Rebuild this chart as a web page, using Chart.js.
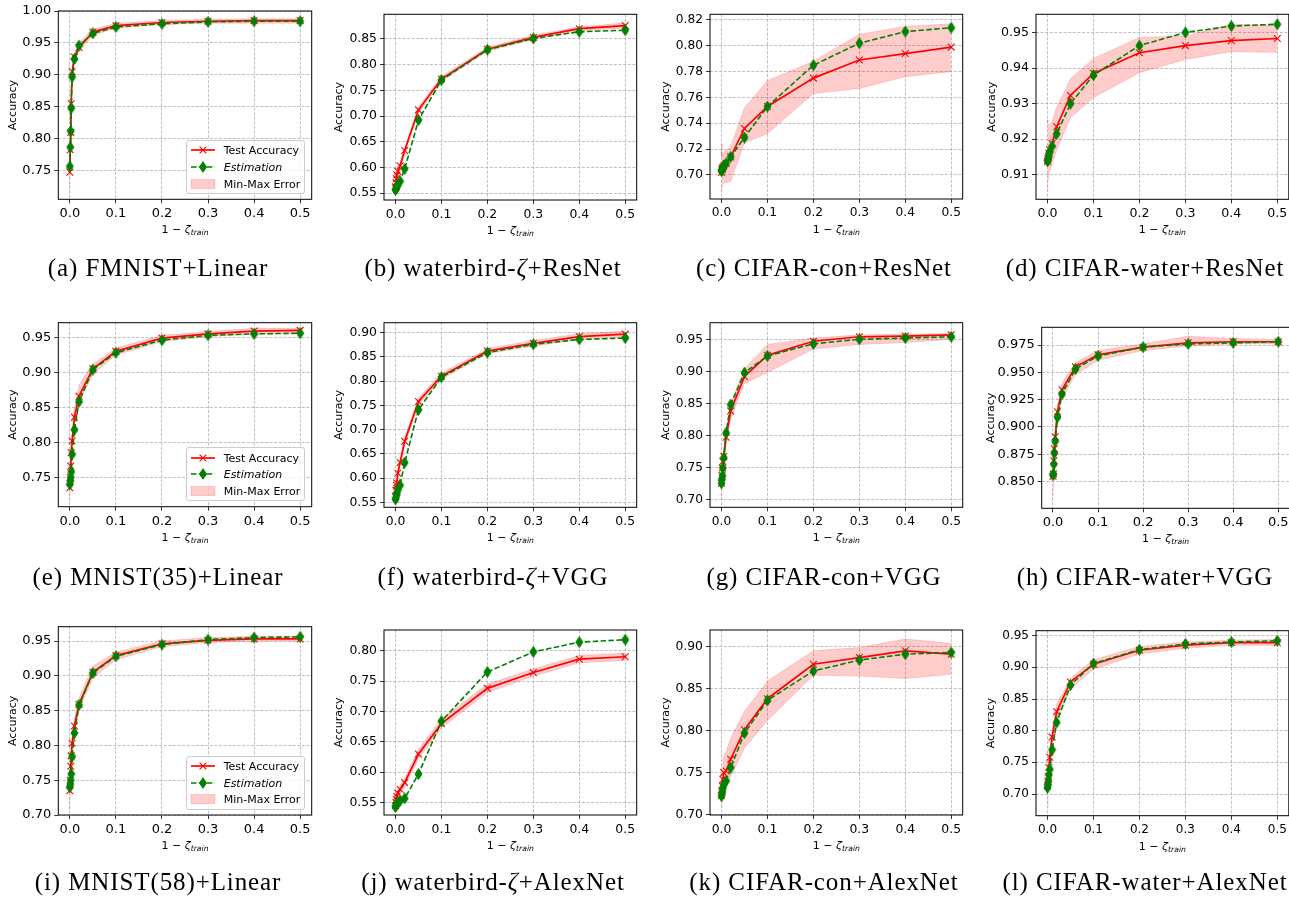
<!DOCTYPE html>
<html>
<head>
<meta charset="utf-8">
<script src="https://cdn.jsdelivr.net/npm/chart.js@4.4.1/dist/chart.umd.min.js"></script>
<style>
  body { margin: 0; background: #fff; width: 1289px; height: 898px; overflow: hidden; position: relative; font-family: "DejaVu Sans", sans-serif; }
  canvas { position: absolute; }
  .xlab { position: absolute; font-size: 11px; transform: translate(-50%, -50%); white-space: nowrap; }
  .xlab sub { font-size: 7.7px; font-style: italic; vertical-align: -2px; }
  .cap { position: absolute; font-family: "Liberation Serif", serif; font-size: 25px; letter-spacing: 0.9px; transform: translate(-50%, -50%); white-space: nowrap; }
  .legend { position: absolute; box-sizing: border-box; border: 1px solid #cccccc; border-radius: 3px; background: rgba(255,255,255,0.8); font-size: 11px; }
  .legend svg { position: absolute; left: 3px; }
  .legend span { position: absolute; left: 37px; transform: translateY(-50%); white-space: nowrap; }
</style>
</head>
<body>
<script>
// x values (1 - zeta_train) shared by every panel
const zeta = [0, 0.001, 0.002, 0.003, 0.005, 0.01, 0.02, 0.05, 0.1, 0.2, 0.3, 0.4, 0.5];
const xTicks = [0, 0.1, 0.2, 0.3, 0.4, 0.5];

const captions = [
  '(a) FMNIST+Linear', '(b) waterbird-<i>ζ</i>+ResNet', '(c) CIFAR-con+ResNet', '(d) CIFAR-water+ResNet',
  '(e) MNIST(35)+Linear', '(f) waterbird-<i>ζ</i>+VGG', '(g) CIFAR-con+VGG', '(h) CIFAR-water+VGG',
  '(i) MNIST(58)+Linear', '(j) waterbird-<i>ζ</i>+AlexNet', '(k) CIFAR-con+AlexNet', '(l) CIFAR-water+AlexNet'
];

const yTicks = [
  [0.75, 0.80, 0.85, 0.90, 0.95, 1.00],
  [0.55, 0.60, 0.65, 0.70, 0.75, 0.80, 0.85],
  [0.70, 0.72, 0.74, 0.76, 0.78, 0.80, 0.82],
  [0.91, 0.92, 0.93, 0.94, 0.95],
  [0.75, 0.80, 0.85, 0.90, 0.95],
  [0.55, 0.60, 0.65, 0.70, 0.75, 0.80, 0.85, 0.90],
  [0.70, 0.75, 0.80, 0.85, 0.90, 0.95],
  [0.850, 0.875, 0.900, 0.925, 0.950, 0.975],
  [0.70, 0.75, 0.80, 0.85, 0.90, 0.95],
  [0.55, 0.60, 0.65, 0.70, 0.75, 0.80],
  [0.70, 0.75, 0.80, 0.85, 0.90],
  [0.70, 0.75, 0.80, 0.85, 0.90, 0.95]
];

// Test Accuracy (red)
const testAcc = [
  [0.748, 0.783, 0.810, 0.855, 0.905, 0.928, 0.943, 0.967, 0.977, 0.982, 0.984, 0.985, 0.985],
  [0.562, 0.570, 0.578, 0.585, 0.592, 0.603, 0.633, 0.712, 0.772, 0.830, 0.853, 0.870, 0.876],
  [0.702, 0.704, 0.705, 0.706, 0.707, 0.709, 0.714, 0.736, 0.753, 0.775, 0.789, 0.794, 0.799],
  [0.9138, 0.9145, 0.9152, 0.9160, 0.9170, 0.9188, 0.9235, 0.9323, 0.9385, 0.9443, 0.9463, 0.9477, 0.9483],
  [0.735, 0.750, 0.766, 0.785, 0.802, 0.836, 0.866, 0.905, 0.930, 0.949, 0.955, 0.959, 0.960],
  [0.562, 0.575, 0.585, 0.590, 0.610, 0.632, 0.676, 0.758, 0.810, 0.862, 0.878, 0.892, 0.897],
  [0.726, 0.738, 0.750, 0.760, 0.768, 0.798, 0.839, 0.893, 0.926, 0.948, 0.955, 0.956, 0.958],
  [0.855, 0.857, 0.869, 0.880, 0.891, 0.914, 0.934, 0.955, 0.966, 0.973, 0.977, 0.978, 0.978],
  [0.735, 0.750, 0.770, 0.785, 0.803, 0.828, 0.859, 0.905, 0.929, 0.946, 0.951, 0.953, 0.953],
  [0.545, 0.550, 0.555, 0.560, 0.566, 0.572, 0.583, 0.630, 0.680, 0.738, 0.764, 0.786, 0.790],
  [0.723, 0.728, 0.734, 0.742, 0.750, 0.752, 0.766, 0.801, 0.838, 0.879, 0.887, 0.895, 0.891],
  [0.713, 0.720, 0.728, 0.742, 0.758, 0.790, 0.830, 0.877, 0.905, 0.927, 0.935, 0.939, 0.939]
];

// Estimation (green)
const estimation = [
  [0.757, 0.787, 0.812, 0.848, 0.897, 0.925, 0.946, 0.965, 0.975, 0.980, 0.983, 0.984, 0.984],
  [0.556, 0.558, 0.560, 0.563, 0.566, 0.573, 0.597, 0.692, 0.770, 0.829, 0.851, 0.864, 0.867],
  [0.703, 0.704, 0.705, 0.706, 0.707, 0.709, 0.714, 0.729, 0.753, 0.785, 0.802, 0.811, 0.814],
  [0.9138, 0.9142, 0.9148, 0.9155, 0.9165, 0.9180, 0.9215, 0.9300, 0.9380, 0.9463, 0.9500, 0.9518, 0.9523],
  [0.740, 0.745, 0.750, 0.758, 0.783, 0.818, 0.858, 0.904, 0.928, 0.946, 0.953, 0.955, 0.956],
  [0.556, 0.560, 0.565, 0.568, 0.575, 0.585, 0.632, 0.741, 0.808, 0.859, 0.876, 0.886, 0.889],
  [0.726, 0.732, 0.738, 0.750, 0.766, 0.805, 0.849, 0.899, 0.925, 0.944, 0.951, 0.953, 0.955],
  [0.856, 0.857, 0.866, 0.876, 0.887, 0.909, 0.930, 0.953, 0.965, 0.973, 0.976, 0.977, 0.978],
  [0.740, 0.744, 0.750, 0.759, 0.784, 0.818, 0.858, 0.904, 0.928, 0.945, 0.952, 0.955, 0.956],
  [0.543, 0.545, 0.547, 0.548, 0.550, 0.553, 0.557, 0.597, 0.684, 0.765, 0.798, 0.814, 0.818],
  [0.722, 0.725, 0.728, 0.732, 0.736, 0.740, 0.756, 0.797, 0.836, 0.871, 0.884, 0.891, 0.893],
  [0.710, 0.714, 0.720, 0.730, 0.739, 0.770, 0.813, 0.872, 0.906, 0.928, 0.937, 0.940, 0.942]
];

// Min-Max Error band
const errMin = [
  [0.712, 0.770, 0.800, 0.840, 0.890, 0.920, 0.937, 0.962, 0.973, 0.979, 0.981, 0.981, 0.981],
  [0.556, 0.564, 0.572, 0.579, 0.586, 0.597, 0.627, 0.706, 0.767, 0.826, 0.849, 0.866, 0.871],
  [0.687, 0.690, 0.692, 0.693, 0.694, 0.694, 0.695, 0.725, 0.732, 0.763, 0.767, 0.776, 0.780],
  [0.9055, 0.9080, 0.9090, 0.9100, 0.9110, 0.9130, 0.9170, 0.9260, 0.9317, 0.9387, 0.9424, 0.9446, 0.9444],
  [0.715, 0.738, 0.752, 0.772, 0.790, 0.826, 0.856, 0.897, 0.925, 0.944, 0.951, 0.955, 0.956],
  [0.556, 0.569, 0.579, 0.584, 0.603, 0.625, 0.669, 0.751, 0.804, 0.857, 0.872, 0.886, 0.891],
  [0.700, 0.720, 0.735, 0.745, 0.755, 0.785, 0.826, 0.882, 0.899, 0.936, 0.943, 0.946, 0.951],
  [0.832, 0.845, 0.858, 0.870, 0.882, 0.905, 0.926, 0.948, 0.961, 0.970, 0.974, 0.976, 0.976],
  [0.708, 0.735, 0.755, 0.770, 0.790, 0.818, 0.850, 0.897, 0.923, 0.942, 0.948, 0.950, 0.950],
  [0.539, 0.544, 0.549, 0.554, 0.560, 0.565, 0.576, 0.622, 0.673, 0.731, 0.758, 0.780, 0.784],
  [0.708, 0.712, 0.717, 0.722, 0.728, 0.733, 0.745, 0.779, 0.812, 0.866, 0.865, 0.862, 0.867],
  [0.678, 0.700, 0.715, 0.728, 0.745, 0.775, 0.818, 0.866, 0.897, 0.921, 0.930, 0.935, 0.935]
];
const errMax = [
  [0.760, 0.795, 0.820, 0.865, 0.912, 0.933, 0.950, 0.971, 0.981, 0.985, 0.987, 0.988, 0.988],
  [0.568, 0.576, 0.584, 0.591, 0.598, 0.609, 0.639, 0.718, 0.777, 0.834, 0.857, 0.874, 0.881],
  [0.724, 0.714, 0.716, 0.717, 0.718, 0.719, 0.722, 0.752, 0.773, 0.788, 0.809, 0.815, 0.817],
  [0.9255, 0.9245, 0.9240, 0.9240, 0.9240, 0.9250, 0.9290, 0.9370, 0.9427, 0.9486, 0.9490, 0.9523, 0.9520],
  [0.760, 0.765, 0.780, 0.800, 0.815, 0.848, 0.882, 0.912, 0.935, 0.953, 0.958, 0.963, 0.963],
  [0.568, 0.581, 0.591, 0.596, 0.617, 0.639, 0.683, 0.765, 0.817, 0.867, 0.884, 0.898, 0.903],
  [0.745, 0.755, 0.765, 0.772, 0.780, 0.812, 0.852, 0.905, 0.943, 0.953, 0.958, 0.959, 0.960],
  [0.870, 0.872, 0.880, 0.892, 0.897, 0.920, 0.940, 0.959, 0.970, 0.976, 0.983, 0.981, 0.980],
  [0.760, 0.765, 0.783, 0.800, 0.815, 0.838, 0.868, 0.914, 0.934, 0.950, 0.955, 0.957, 0.957],
  [0.551, 0.556, 0.561, 0.566, 0.572, 0.579, 0.590, 0.638, 0.688, 0.745, 0.770, 0.792, 0.796],
  [0.740, 0.745, 0.752, 0.760, 0.770, 0.775, 0.791, 0.823, 0.859, 0.895, 0.899, 0.909, 0.904],
  [0.730, 0.735, 0.745, 0.755, 0.770, 0.800, 0.842, 0.883, 0.912, 0.933, 0.940, 0.943, 0.944]
];

// plot boxes in page pixels, axis limits, tick font size
const panels = [
  { l: 58.3, t: 11, r: 311.7, b: 199.3, tx: 14, y0: 0.7055, y1: 1.0, fs: 13 },
  { l: 384, t: 14.3, r: 636.7, b: 200, tx: 340, y0: 0.5365, y1: 0.898, fs: 12.4 },
  { l: 710, t: 14.3, r: 962.7, b: 199, tx: 666.7, y0: 0.6814, y1: 0.8244, fs: 12.2 },
  { l: 1036, t: 14.3, r: 1288.8, b: 199.3, tx: 992.3, y0: 0.9031, y1: 0.9551, fs: 12.6 },
  { l: 58.3, t: 322.7, r: 311.7, b: 506.7, tx: 13.3, y0: 0.708, y1: 0.971, fs: 13 },
  { l: 384, t: 322.7, r: 636.7, b: 507.3, tx: 340, y0: 0.5397, y1: 0.9206, fs: 12.4 },
  { l: 710, t: 322.7, r: 962.7, b: 507.3, tx: 666.7, y0: 0.6885, y1: 0.977, fs: 12.2 },
  { l: 1041.7, t: 327.3, r: 1289.5, b: 508.3, tx: 991.7, y0: 0.8256, y1: 0.9912, fs: 13 },
  { l: 58.3, t: 626.7, r: 311.7, b: 815, tx: 13.3, y0: 0.70, y1: 0.9706, fs: 13 },
  { l: 384, t: 630, r: 636.7, b: 815, tx: 340, y0: 0.5297, y1: 0.834, fs: 12.4 },
  { l: 710, t: 630, r: 962.7, b: 815, tx: 666.7, y0: 0.6996, y1: 0.9198, fs: 12.4 },
  { l: 1036, t: 630.7, r: 1288.8, b: 815.7, tx: 991.7, y0: 0.6658, y1: 0.9579, fs: 12 }
];
const capX = [158, 493, 824, 1145];
const capY = [268, 577, 882];
const legendPanels = [0, 4, 8];

Chart.defaults.font.family = '"DejaVu Sans", sans-serif';
Chart.defaults.color = '#000';

// thin diamond marker like matplotlib 'd'
function thinDiamond() {
  const c = document.createElement('canvas');
  c.width = 9; c.height = 12;
  const g = c.getContext('2d');
  g.fillStyle = '#008000'; g.strokeStyle = '#008000'; g.lineWidth = 1;
  g.beginPath();
  g.moveTo(4.5, 0.6); g.lineTo(8, 6); g.lineTo(4.5, 11.4); g.lineTo(1, 6);
  g.closePath(); g.fill(); g.stroke();
  return c;
}
const diamond = thinDiamond();

const frame = {
  id: 'frame',
  afterDatasetsDraw(chart) {
    const { ctx, chartArea: a } = chart;
    ctx.save();
    ctx.strokeStyle = '#000';
    ctx.lineWidth = 1;
    ctx.strokeRect(a.left, a.top, a.right - a.left, a.bottom - a.top);
    ctx.restore();
  }
};

const pts = ys => zeta.map((x, i) => ({ x: x, y: ys[i] }));

panels.forEach((p, i) => {
  const cx = Math.round(p.tx - 6.6);
  const cy = Math.round(p.t - 12);
  const cw = Math.ceil(p.r + 10 - cx);
  const ch = Math.ceil(p.b + 28 - cy);
  const cv = document.createElement('canvas');
  cv.width = cw; cv.height = ch;
  cv.style.left = cx + 'px';
  cv.style.top = cy + 'px';
  document.body.appendChild(cv);

  const yW = p.l - cx;
  const xH = ch - (p.b - cy);
  const dec = i === 7 ? 3 : 2;
  const grid = { color: '#b0b0b0', lineWidth: 0.8, tickColor: '#000', tickLength: 4, tickWidth: 0.8 };
  const border = { display: false, dash: [3, 1.6] };

  new Chart(cv, {
    type: 'line',
    data: {
      datasets: [
        {
          label: 'Estimation', data: pts(estimation[i]),
          borderColor: '#008000', borderWidth: 1.6, borderDash: [5.5, 2.4],
          pointStyle: diamond, pointRadius: 4, tension: 0, fill: false
        },
        {
          label: 'Test Accuracy', data: pts(testAcc[i]),
          borderColor: '#ff0000', borderWidth: 1.7,
          pointStyle: 'crossRot', pointRadius: 4.8, pointBorderWidth: 1.1,
          pointBorderColor: '#ff0000', tension: 0, fill: false
        },
        {
          label: 'Min-Max Error', data: pts(errMax[i]),
          borderColor: 'rgba(255,0,0,0.2)', borderWidth: 0.8, pointRadius: 0,
          backgroundColor: 'rgba(255,0,0,0.2)', fill: '+1', tension: 0
        },
        {
          label: 'min', data: pts(errMin[i]),
          borderColor: 'rgba(255,0,0,0.2)', borderWidth: 0.8, pointRadius: 0,
          fill: false, tension: 0
        }
      ]
    },
    options: {
      responsive: false,
      animation: false,
      events: [],
      layout: { padding: { left: 0, top: p.t - cy, right: cw - (p.r - cx), bottom: 0 } },
      plugins: { legend: { display: false }, tooltip: { enabled: false } },
      scales: {
        x: {
          type: 'linear', min: -0.025, max: 0.525,
          afterBuildTicks: s => { s.ticks = xTicks.map(v => ({ value: v })); },
          afterFit: s => { s.height = xH; },
          ticks: { font: { size: p.fs }, padding: 3, maxRotation: 0, autoSkip: false,
                   callback: v => v.toFixed(1) },
          grid: grid, border: border
        },
        y: {
          type: 'linear', min: p.y0, max: p.y1,
          afterBuildTicks: s => { s.ticks = yTicks[i].map(v => ({ value: v })); },
          afterFit: s => { s.width = yW; },
          ticks: { font: { size: p.fs }, padding: 3, autoSkip: false,
                   callback: v => v.toFixed(dec) },
          title: { display: true, text: 'Accuracy', font: { size: 11 }, padding: 0 },
          grid: grid, border: border
        }
      }
    },
    plugins: [frame]
  });

  const xl = document.createElement('div');
  xl.className = 'xlab';
  xl.style.left = ((p.l + p.r) / 2) + 'px';
  xl.style.top = (p.b + 31) + 'px';
  xl.innerHTML = '1 − <i>ζ</i><sub>train</sub>';
  document.body.appendChild(xl);

  const cap = document.createElement('div');
  cap.className = 'cap';
  cap.style.left = capX[i % 4] + 'px';
  cap.style.top = capY[Math.floor(i / 4)] + 'px';
  cap.innerHTML = captions[i];
  document.body.appendChild(cap);

  if (legendPanels.includes(i)) {
    const lg = document.createElement('div');
    lg.className = 'legend';
    lg.style.left = (p.r - 126) + 'px';
    lg.style.top = (p.b - 59.3) + 'px';
    lg.style.width = '119px';
    lg.style.height = '54px';
    lg.innerHTML =
      '<svg width="26" height="12" style="top:3.3px"><line x1="1" y1="6" x2="25" y2="6" stroke="#ff0000" stroke-width="1.7"/>' +
      '<path d="M9.6 2.6 L16.4 9.4 M16.4 2.6 L9.6 9.4" stroke="#ff0000" stroke-width="1.1"/></svg>' +
      '<span style="top:9.3px">Test Accuracy</span>' +
      '<svg width="26" height="12" style="top:20px"><line x1="1" y1="6" x2="25" y2="6" stroke="#008000" stroke-width="1.6" stroke-dasharray="5.5 2.4"/>' +
      '<polygon points="13,0.8 16.5,6 13,11.2 9.5,6" fill="#008000" stroke="#008000" stroke-width="1"/></svg>' +
      '<span style="top:26px"><i>Estimation</i></span>' +
      '<svg width="26" height="12" style="top:36.7px"><rect x="1" y="1.5" width="24" height="9" fill="rgba(255,0,0,0.2)" stroke="rgba(255,0,0,0.2)" stroke-width="0.8"/></svg>' +
      '<span style="top:42.7px">Min-Max Error</span>';
    document.body.appendChild(lg);
  }
});
</script>
</body>
</html>
